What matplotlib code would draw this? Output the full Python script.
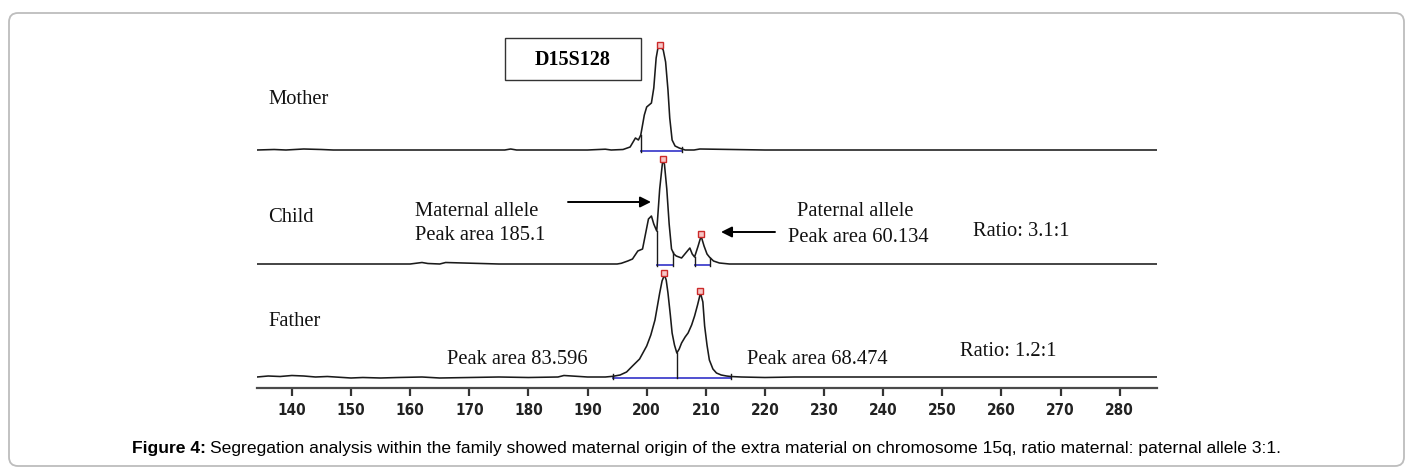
import matplotlib
matplotlib.use('Agg')
import numpy as np
import matplotlib.pyplot as plt
from matplotlib import font_manager
from matplotlib.patches import FancyBboxPatch, Rectangle

W, H = 1413, 472

# fragment size axis (bp)
size_ticks = list(range(140, 290, 10))
size_min, size_max = 134.1, 286.3

# electropherogram traces: size (bp) and relative signal
mother_x = [134.1, 137, 139, 142, 145, 147, 152, 160, 170, 176,
            177, 178, 190, 193, 194, 196.0, 197.2, 198.1, 198.6, 199.0,
            199.6, 200.0, 200.8, 201.2, 201.6, 201.9, 202.4, 202.8, 203.2, 203.6,
            203.9, 204.3, 204.8, 205.5, 206.5, 208, 209, 220, 286.3]
mother_y = [0, 0.5, 0, 1, 0.5, 0, 0, 0, 0, 0,
            1, 0, 0, 0.8, 0, 0.5, 3, 12, 10, 15,
            35, 43, 47, 62, 92, 102, 103, 100, 88, 60,
            32, 10, 4, 2, 0, 0, 1, 0, 0]

child_x = [134.1, 140, 150, 155, 160, 162, 163, 165, 166, 175,
           185, 190, 195.0, 195.7, 196.8, 197.6, 198.5, 199.3, 199.8, 200.3,
           200.8, 201.2, 201.7, 202.2, 202.7, 203.0, 203.4, 203.8, 204.2, 204.6,
           205.0, 205.9, 206.6, 207.3, 207.7, 208.1, 208.7, 209.2, 209.7, 210.2,
           210.6, 211.3, 212.3, 214, 286.3]
child_y = [0, 0, 0, 0, 0, 1.5, 0.5, 0, 1.5, 0,
           0, 0, 0, 0.7, 3, 5, 13, 15, 30, 45,
           48, 40, 33, 75, 103, 100, 75, 40, 15, 10,
           8, 6, 11, 16, 10, 7, 18, 28, 18, 10,
           7, 3, 1, 0, 0]

father_x = [134.1, 136, 138, 140, 142, 144, 146, 150, 152, 155,
            158, 162, 165, 170, 175, 180, 185, 186, 190, 193,
            194.3, 195.5, 196.6, 197.6, 198.8, 200.0, 200.7, 201.4, 202.2, 202.6,
            203.0, 203.3, 203.6, 204.0, 204.3, 204.7, 205.1, 205.5, 205.9, 206.5,
            207.0, 207.6, 208.1, 208.6, 209.1, 209.5, 209.8, 210.2, 210.6, 211.2,
            211.8, 212.6, 213.5, 214.2, 216, 220, 225, 230, 286.3]
father_y = [0, 1, 0.5, 1.5, 1, 0, 0.5, -1, -0.5, -1,
            -0.5, 0, -1, -0.5, 0, -0.5, 0, 1.5, 0, 0,
            0.7, 2, 5, 11, 18, 31, 42, 57, 84, 96,
            102, 97, 84, 62, 44, 32, 24, 28, 34, 40,
            44, 52, 61, 72, 84, 75, 51, 32, 17, 8,
            4, 2, 1, 0.5, 0, -0.5, 0, 0, 0]

# called peaks (size, height) and integration windows
mother_peaks = [(202.2, 103)]
child_peaks = [(202.8, 103), (209.2, 28)]
father_peaks = [(203.0, 102), (209.1, 84)]

mother_windows = [(199.0, 205.9)]
child_windows = [(201.7, 204.4), (208.1, 210.7)]
father_windows = [(194.3, 214.2)]
father_split = 205.1

traces = [
    ("Mother", mother_x, mother_y, mother_peaks, mother_windows, 227),
    ("Child", child_x, child_y, child_peaks, child_windows, 113),
    ("Father", father_x, father_y, father_peaks, father_windows, 0),
]


def pick_font(names):
    for n in names:
        try:
            font_manager.findfont(n, fallback_to_default=False)
            return n
        except Exception:
            continue
    return 'DejaVu Sans'


serif = pick_font(['Liberation Serif', 'DejaVu Serif'])
narrow = pick_font(['Liberation Sans Narrow', 'DejaVu Sans'])
sans = pick_font(['Liberation Sans', 'DejaVu Sans'])

fig = plt.figure(figsize=(W / 100, H / 100), dpi=100)
fig.patch.set_facecolor('white')

# main plot area in pixels: x 257..1157, y 30..388
ax = fig.add_axes([257 / W, 1 - 388 / H, 900 / W, 358 / H])
ax.set_facecolor('none')
ax.set_xlim(size_min, size_max)
ax.set_ylim(-11, 347)

blue = '#5050d0'
for name, xs, ys, peaks, wins, off in traces:
    yy = np.array(ys) + off
    ax.plot(xs, yy, color='#1a1a1a', lw=1.15, zorder=3)
    for a, b in wins:
        ax.plot([a, b], [off - 0.5, off - 0.5], color=blue, lw=1.4, zorder=2)
        for e in (a, b):
            top = max(np.interp(e, xs, ys), 3) + off
            ax.plot([e, e], [off - 2, top], color='#1a1a1a', lw=1.0, zorder=3)
    for px, ph in peaks:
        ax.plot(px, ph + off + 2, marker='s', ms=5, mfc='#f6c6c6',
                mec='#cc2a2a', mew=1.0, zorder=4)

# valley split on father trace
ax.plot([father_split, father_split],
        [-0.5, np.interp(father_split, father_x, father_y)],
        color='#1a1a1a', lw=1.0, zorder=3)

for s in ['left', 'right', 'top']:
    ax.spines[s].set_visible(False)
ax.spines['bottom'].set_color('#4a4a4a')
ax.spines['bottom'].set_linewidth(1.6)
ax.set_yticks([])
ax.set_xticks(size_ticks)
ax.set_xticklabels([str(t) for t in size_ticks])
for lab in ax.get_xticklabels():
    lab.set_fontfamily(narrow)
    lab.set_fontweight('bold')
    lab.set_fontstretch('condensed')
    lab.set_fontsize(11)
    lab.set_color('#222222')
ax.tick_params(axis='x', direction='out', length=6, width=1.6,
               color='#333333', pad=5)

# overlay in pixel coordinates for labels, arrows and frame
ov = fig.add_axes([0, 0, 1, 1], zorder=5)
ov.set_xlim(0, W)
ov.set_ylim(H, 0)
ov.axis('off')

frame = FancyBboxPatch((9, 13), W - 18, H - 19,
                       boxstyle='round,pad=0,rounding_size=9',
                       fc='none', ec='#bdbdbd', lw=1.3)
ov.add_patch(frame)

ov.add_patch(Rectangle((505, 38), 136, 42, fc='white', ec='#333333', lw=1.0))
ov.text(573, 60, 'D15S128', ha='center', va='center', family=serif,
        fontweight='bold', fontsize=14.5)

tfs = 14.8
labels = [
    ('Mother', 268, 100),
    ('Child', 268, 218),
    ('Father', 268, 322),
    ('Maternal allele', 415, 211),
    ('Peak area 185.1', 415, 236),
    ('Paternal allele', 797, 211),
    ('Peak area 60.134', 788, 237),
    ('Ratio: 3.1:1', 973, 232),
    ('Peak area 83.596', 447, 359),
    ('Peak area 68.474', 747, 359),
    ('Ratio: 1.2:1', 960, 352),
]
for txt, x, y in labels:
    ov.text(x, y, txt, ha='left', va='center', family=serif, fontsize=tfs,
            color='#111111')

arrow = dict(arrowstyle='-|>', color='black', lw=1.4, mutation_scale=16,
             shrinkA=0, shrinkB=0)
ov.annotate('', xy=(651, 202), xytext=(568, 202), arrowprops=arrow)
ov.annotate('', xy=(721, 232), xytext=(775, 232), arrowprops=arrow)

# caption, centred under the chart
cap_y = 448
cap_fs = 12.6
cap_rest = ('Segregation analysis within the family showed maternal origin of the '
            'extra material on chromosome 15q, ratio maternal: paternal allele 3:1.')
t1 = ov.text(0, cap_y, 'Figure 4:', ha='left', va='center', family=sans,
             fontweight='bold', fontsize=cap_fs)
t2 = ov.text(0, cap_y, cap_rest, ha='left', va='center', family=sans,
             fontsize=cap_fs)
fig.canvas.draw()
w1 = t1.get_window_extent().width
w2 = t2.get_window_extent().width
gap = 5
x0 = (W - (w1 + gap + w2)) / 2
t1.set_x(x0)
t2.set_x(x0 + w1 + gap)

fig.savefig('out.png', dpi=100)
